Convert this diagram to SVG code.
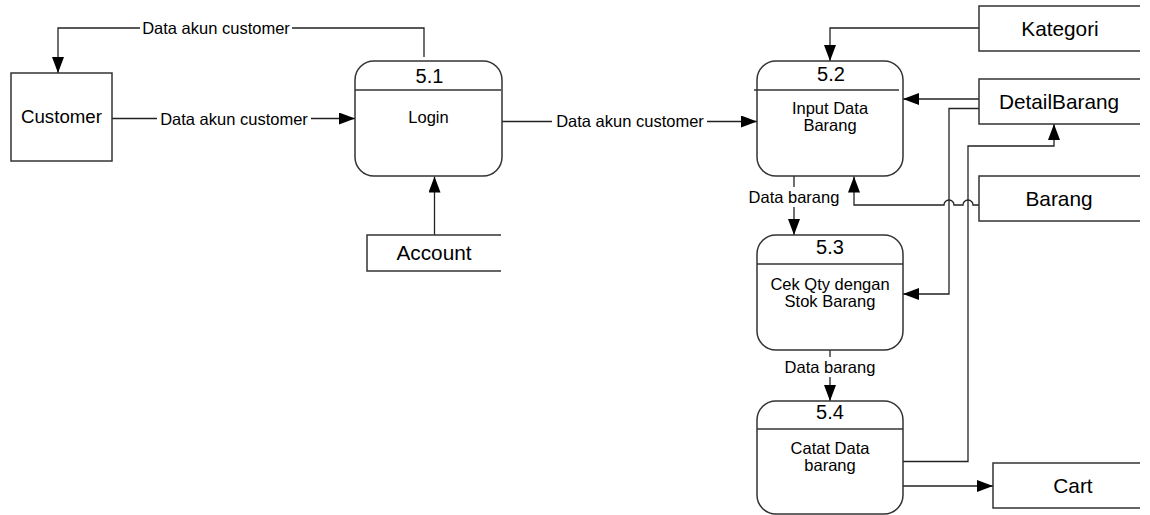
<svg xmlns="http://www.w3.org/2000/svg" width="1150" height="515" viewBox="0 0 1150 515">
  <style>
    text { font-family: "Liberation Sans", Arial, sans-serif; fill: #000; text-anchor: middle; }
    .proc { fill: #fff; stroke: #333; stroke-width: 1.5; }
    .div { stroke: #333; stroke-width: 1.3; }
    .ent { fill: #fff; stroke: #333; stroke-width: 1.5; }
    .store { fill: none; stroke: #333; stroke-width: 1.5; }
    .num { font-size: 20px; }
    .pname { font-size: 16.5px; }
    .big { font-size: 20.8px; }
    .flow { fill: none; stroke: #222; stroke-width: 1.3; }
    .lbl { font-size: 16.5px; }
    .bg { fill: #fff; }
  </style>
  <defs>
    <marker id="arrow" markerUnits="userSpaceOnUse" markerWidth="17" markerHeight="13" refX="16" refY="6" orient="auto">
      <path d="M0,0 L16,6 L0,12 z" fill="#000"/>
    </marker>
  </defs>

  <!-- connectors -->
  <g id="connectors">
    <!-- Login back to Customer -->
    <path class="flow" d="M424,57 V28 H58 V73" marker-end="url(#arrow)"/>
    <rect class="bg" x="140" y="18" width="152" height="20"/>
    <text class="lbl" x="216" y="33.5">Data akun customer</text>

    <!-- Customer to Login -->
    <path class="flow" d="M112,118.5 H355" marker-end="url(#arrow)"/>
    <rect class="bg" x="157" y="108" width="154" height="20"/>
    <text class="lbl" x="234" y="124.5">Data akun customer</text>

    <!-- Login to 5.2 -->
    <path class="flow" d="M502,121.5 H757" marker-end="url(#arrow)"/>
    <rect class="bg" x="552" y="111" width="155" height="20"/>
    <text class="lbl" x="630" y="127">Data akun customer</text>

    <!-- Account to Login -->
    <path class="flow" d="M434.5,235 V176.5" marker-end="url(#arrow)"/>

    <!-- Kategori to 5.2 -->
    <path class="flow" d="M979,28 H830 V61" marker-end="url(#arrow)"/>

    <!-- DetailBarang to 5.2 -->
    <path class="flow" d="M979,99 H903" marker-end="url(#arrow)"/>

    <!-- DetailBarang to 5.3 -->
    <path class="flow" d="M979,108.5 H949 V294 H903" marker-end="url(#arrow)"/>

    <!-- Barang to 5.2, hopping over the two verticals -->
    <path class="flow" d="M979,205 H973 A5,5 0 0 0 963,205 H954 A5,5 0 0 0 944,205 H854 V176.5" marker-end="url(#arrow)"/>

    <!-- 5.2 to 5.3 -->
    <path class="flow" d="M794,176 V235" marker-end="url(#arrow)"/>
    <rect class="bg" x="746" y="187" width="96" height="20"/>
    <text class="lbl" x="794" y="203">Data barang</text>

    <!-- 5.3 to 5.4 -->
    <path class="flow" d="M830,350 V401" marker-end="url(#arrow)"/>
    <rect class="bg" x="782" y="357" width="96" height="20"/>
    <text class="lbl" x="830" y="373">Data barang</text>

    <!-- 5.4 to DetailBarang -->
    <path class="flow" d="M902,461.5 H968 V146 H1054 V124" marker-end="url(#arrow)"/>

    <!-- 5.4 to Cart -->
    <path class="flow" d="M903,486 H993" marker-end="url(#arrow)"/>
  </g>

  <!-- external entity -->
  <g id="customer">
    <rect class="ent" x="11" y="73" width="101" height="88"/>
    <text class="big" x="61.5" y="122.5" style="font-size:18.7px">Customer</text>
  </g>

  <!-- processes -->
  <g id="p51">
    <rect class="proc" x="355" y="61" width="147" height="115" rx="19" ry="19"/>
    <line class="div" x1="355" y1="90" x2="501" y2="90"/>
    <text class="num" x="429.5" y="82.5">5.1</text>
    <text class="pname" x="428.5" y="122.5">Login</text>
  </g>

  <g id="p52">
    <rect class="proc" x="757" y="61" width="146" height="115" rx="19" ry="19"/>
    <line class="div" x1="754" y1="90" x2="899" y2="90"/>
    <text class="num" x="831" y="80.5">5.2</text>
    <text class="pname" x="830" y="113.5">Input Data</text>
    <text class="pname" x="830" y="130.5">Barang</text>
  </g>

  <g id="p53">
    <rect class="proc" x="757" y="235" width="146" height="115" rx="19" ry="19"/>
    <line class="div" x1="757" y1="264" x2="903" y2="264"/>
    <text class="num" x="830" y="253.5">5.3</text>
    <text class="pname" x="830" y="289.5">Cek Qty dengan</text>
    <text class="pname" x="830" y="307">Stok Barang</text>
  </g>

  <g id="p54">
    <rect class="proc" x="757" y="401" width="146" height="113" rx="19" ry="19"/>
    <line class="div" x1="757" y1="429" x2="903" y2="429"/>
    <text class="num" x="830" y="418.5">5.4</text>
    <text class="pname" x="830" y="453.5">Catat Data</text>
    <text class="pname" x="830" y="471">barang</text>
  </g>

  <!-- data stores (open on the right) -->
  <g id="account">
    <path class="store" d="M501,235 H367 V271 H501"/>
    <text class="big" x="434" y="260">Account</text>
  </g>

  <g id="kategori">
    <path class="store" d="M1140,6 H979 V51 H1140"/>
    <text class="big" x="1060" y="36">Kategori</text>
  </g>

  <g id="detailbarang">
    <path class="store" d="M1140,79 H979 V124 H1140"/>
    <text class="big" x="1059" y="109">DetailBarang</text>
  </g>

  <g id="barang">
    <path class="store" d="M1140,176 H979 V221 H1140"/>
    <text class="big" x="1059" y="206">Barang</text>
  </g>

  <g id="cart">
    <path class="store" d="M1140,463 H993 V508 H1140"/>
    <text class="big" x="1073" y="492.5">Cart</text>
  </g>
</svg>
